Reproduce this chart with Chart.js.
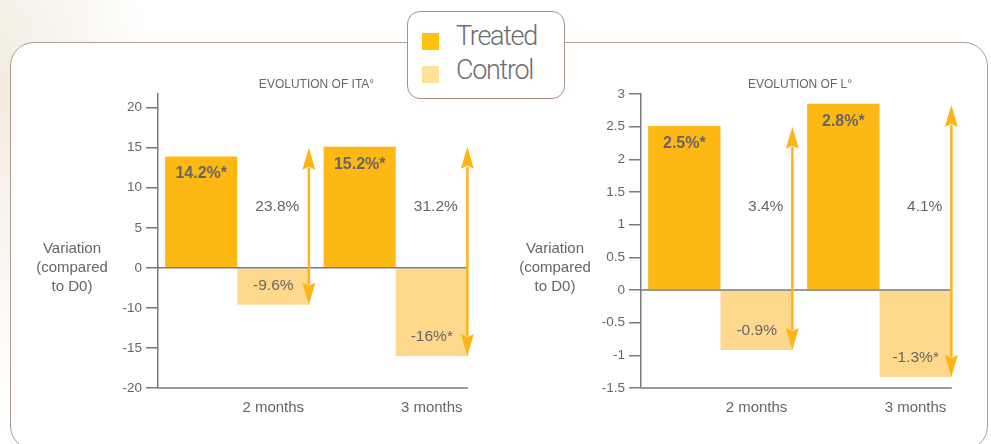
<!DOCTYPE html>
<html>
<head>
<meta charset="utf-8">
<script src="https://cdn.jsdelivr.net/npm/chart.js@4.4.1/dist/chart.umd.min.js"></script>
<style>
  html, body { margin: 0; padding: 0; width: 991px; height: 444px; overflow: hidden; }
  body { position: relative; background: radial-gradient(ellipse 150px 300px at 0px 90px, #f2ecdf 0%, rgba(242,236,223,0) 100%), #ffffff; }
  #frame { position: absolute; left: 10px; top: 42px; width: 978px; height: 408px; box-sizing: border-box;
           border: 1.5px solid #b39d91; border-radius: 24px; background: #ffffff; }
  #legend { position: absolute; left: 407px; top: 11px; width: 158px; height: 88px; box-sizing: border-box;
            border: 1.5px solid #a98f84; border-radius: 13px; background: #ffffff; z-index: 3; }
  .sw { position: absolute; left: 14px; width: 17px; height: 17px; }
  .lt { position: absolute; left: 48px; font-family: Roboto, 'Liberation Sans', sans-serif; font-weight: 300;
        font-size: 27px; line-height: 27px; color: #6e6e6e; letter-spacing: -1.3px; white-space: nowrap; }
  canvas { position: absolute; z-index: 2; }
  #c1 { left: 0px; top: 50px; }
  #c2 { left: 490px; top: 50px; }
</style>
</head>
<body>
<div id="frame"></div>
<div id="legend">
  <div class="sw" id="sw0" style="top:21px;"></div>
  <div class="lt" id="lt0" style="top:11px;"></div>
  <div class="sw" id="sw1" style="top:53.5px;"></div>
  <div class="lt" id="lt1" style="top:45px;"></div>
</div>
<canvas id="c1" width="490" height="394" style="width:490px;height:394px;"></canvas>
<canvas id="c2" width="501" height="394" style="width:501px;height:394px;"></canvas>
<script>
// ---------------- data ----------------
const categories = ['2 months', '3 months'];
const seriesNames = ['Treated', 'Control'];

const itaTitle = 'EVOLUTION OF ITA°';
const itaTreated = [13.9, 15.1];
const itaControl = [-9.6, -16.0];
const itaArrowTop = [15.0, 15.1];
const itaTreatedLabels = ['14.2%*', '15.2%*'];
const itaControlLabels = ['-9.6%', '-16%*'];
const itaDiffLabels = ['23.8%', '31.2%'];
const itaTicks = [20, 15, 10, 5, 0, -10, -15, -20];

const lTitle = 'EVOLUTION OF L°';
const lTreated = [2.51, 2.85];
const lControl = [-0.92, -1.33];
const lArrowTop = [2.5, 2.83];
const lTreatedLabels = ['2.5%*', '2.8%*'];
const lControlLabels = ['-0.9%', '-1.3%*'];
const lDiffLabels = ['3.4%', '4.1%'];
const lTicks = [3, 2.5, 2, 1.5, 1, 0.5, 0, -0.5, -1, -1.5];

const yTitleLines = ['Variation', '(compared', 'to D0)'];

// ---------------- styles ----------------
const treatedColor = '#FDB813';
const controlColor = '#FED88C';
const arrowColor = '#FDB515';
const axisColor = '#7a7a7a';
const textColor = '#666666';
const FONT = "'Liberation Sans', Arial, sans-serif";

// legend (HTML)
document.getElementById('sw0').style.background = '#FFC20E';
document.getElementById('sw1').style.background = '#FFE296';
document.getElementById('lt0').textContent = seriesNames[0];
document.getElementById('lt1').textContent = seriesNames[1];

// ---------------- broken linear scale (the ITA axis skips the -5 step) ----------------
class BrokenLinearScale extends Chart.LinearScale {
  static id = 'brokenLinear';
  static defaults = Chart.LinearScale.defaults;
  toAxis(v) {
    const g = this.options.gap || 0;
    if (v < 0 && g) return Math.min(v + g, 0);
    return v;
  }
  configure() {
    super.configure();
    this._startValue = this.toAxis(this.min);
    this._endValue = this.toAxis(this.max);
    this._valueRange = this._endValue - this._startValue;
  }
  getPixelForValue(value) {
    if (value === null || value === undefined) return NaN;
    return this.getPixelForDecimal((this.toAxis(value) - this._startValue) / this._valueRange);
  }
  getValueForPixel(pixel) {
    const a = this._startValue + this.getDecimalForPixel(pixel) * this._valueRange;
    const g = this.options.gap || 0;
    return (a < 0 && g) ? a - g : a;
  }
}
Chart.register(BrokenLinearScale);

// ---------------- annotation plugin ----------------
const annotate = {
  id: 'annotate',
  afterDatasetsDraw(chart, args, o) {
    const ctx = chart.ctx, ys = chart.scales.y, area = chart.chartArea;
    const tMeta = chart.getDatasetMeta(0), cMeta = chart.getDatasetMeta(1);
    const last = cMeta.data[cMeta.data.length - 1];
    const right = last.x + last.width / 2;
    ctx.save();
    // zero line and bottom axis line, ending at the last bar
    ctx.strokeStyle = axisColor; ctx.lineWidth = 1.5;
    [ys.getPixelForValue(0), area.bottom].forEach(py => {
      ctx.beginPath(); ctx.moveTo(area.left, py); ctx.lineTo(right, py); ctx.stroke();
    });
    // double arrows at the right edge of each control bar
    cMeta.data.forEach((bar, i) => {
      const x = bar.x + bar.width / 2 - 0.5;
      const yt = ys.getPixelForValue(o.arrowTop[i]);
      const yb = ys.getPixelForValue(chart.data.datasets[1].data[i]);
      const hl = 22, hw = 6.5, notch = 3;
      ctx.strokeStyle = arrowColor; ctx.fillStyle = arrowColor; ctx.lineWidth = 2.5;
      ctx.beginPath(); ctx.moveTo(x, yt + hl - 2); ctx.lineTo(x, yb - hl + 2); ctx.stroke();
      ctx.beginPath(); ctx.moveTo(x, yt); ctx.lineTo(x + hw, yt + hl); ctx.lineTo(x, yt + hl - notch); ctx.lineTo(x - hw, yt + hl); ctx.closePath(); ctx.fill();
      ctx.beginPath(); ctx.moveTo(x, yb); ctx.lineTo(x + hw, yb - hl); ctx.lineTo(x, yb - hl + notch); ctx.lineTo(x - hw, yb - hl); ctx.closePath(); ctx.fill();
    });
    // labels
    ctx.fillStyle = textColor; ctx.textAlign = 'center'; ctx.textBaseline = 'middle';
    ctx.font = 'bold 16px ' + FONT;
    tMeta.data.forEach((bar, i) => {
      ctx.fillText(o.treatedLabels[i], bar.x, Math.min(bar.y, bar.base) + 17.5);
    });
    ctx.font = '15.5px ' + FONT;
    cMeta.data.forEach((bar, i) => {
      ctx.fillText(o.controlLabels[i], bar.x, Math.max(bar.y, bar.base) - 19);
      ctx.fillText(o.diffLabels[i], bar.x + o.diffDx, area.top + o.diffTop);
    });
    // horizontal y-axis title
    ctx.font = '15px ' + FONT;
    yTitleLines.forEach((t, k) => ctx.fillText(t, o.yTitleX, o.yTitleY + (k - 1) * 19));
    ctx.restore();
  }
};

function makeChart(id, cfg) {
  return new Chart(document.getElementById(id), {
    type: 'bar',
    data: {
      labels: categories,
      datasets: [
        { label: seriesNames[0], data: cfg.treated, backgroundColor: treatedColor, borderWidth: 0 },
        { label: seriesNames[1], data: cfg.control, backgroundColor: controlColor, borderWidth: 0 }
      ]
    },
    options: {
      responsive: false,
      animation: false,
      events: [],
      categoryPercentage: 0.91,
      barPercentage: 1.0,
      layout: { padding: { left: 0, right: cfg.padRight, top: 0, bottom: 0 } },
      plugins: {
        legend: { display: false },
        tooltip: { enabled: false },
        title: {
          display: true, text: cfg.title, fullSize: false, color: textColor,
          font: { family: FONT, size: 12, weight: 'normal', lineHeight: 1.2 },
          padding: { top: 27.3, bottom: 2.3 }
        },
        annotate: {
          arrowTop: cfg.arrowTop, treatedLabels: cfg.treatedLabels, controlLabels: cfg.controlLabels,
          diffLabels: cfg.diffLabels, diffDx: cfg.diffDx, diffTop: 113,
          yTitleX: cfg.yTitleX, yTitleY: 218
        }
      },
      scales: {
        x: {
          grid: { display: false, drawTicks: false },
          border: { display: false },
          ticks: { color: textColor, font: { family: FONT, size: 15 }, padding: 11, labelOffset: 36, maxRotation: 0 },
          afterFit: s => { s.height = 56; }
        },
        y: {
          type: 'brokenLinear',
          gap: cfg.gap,
          min: cfg.min, max: cfg.max,
          grid: { drawOnChartArea: false, drawTicks: true, tickLength: 12, tickColor: axisColor, lineWidth: 1.5 },
          border: { display: true, color: axisColor, width: 1.5 },
          ticks: { color: textColor, font: { family: FONT, size: 13.5 }, padding: 4, callback: v => String(v) },
          afterBuildTicks: s => { s.ticks = cfg.ticks.map(v => ({ value: v })); },
          afterFit: s => { s.width = cfg.axisWidth; }
        }
      }
    },
    plugins: [annotate]
  });
}

makeChart('c1', {
  title: itaTitle, treated: itaTreated, control: itaControl, arrowTop: itaArrowTop,
  treatedLabels: itaTreatedLabels, controlLabels: itaControlLabels, diffLabels: itaDiffLabels,
  ticks: itaTicks, min: -20, max: 21.7, gap: 5, axisWidth: 158, padRight: 15, diffDx: 4, yTitleX: 72
});
makeChart('c2', {
  title: lTitle, treated: lTreated, control: lControl, arrowTop: lArrowTop,
  treatedLabels: lTreatedLabels, controlLabels: lControlLabels, diffLabels: lDiffLabels,
  ticks: lTicks, min: -1.5, max: 3, gap: 0, axisWidth: 151, padRight: 32, diffDx: 9, yTitleX: 65
});
</script>
</body>
</html>
